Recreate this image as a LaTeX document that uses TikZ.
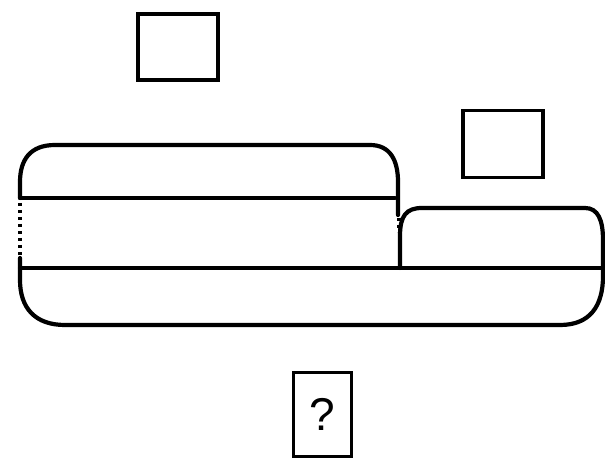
\documentclass[tikz,border=0pt]{standalone}
\usepackage{fontspec}
\setmainfont{Liberation Sans}
\begin{document}
\begin{tikzpicture}[x=1pt,y=-1pt,
  outl/.style={line width=4.2pt,line cap=round},
  box/.style={draw,line width=3.4pt,inner sep=0pt},
  dots/.style={line width=4pt,dash pattern=on 3pt off 4pt}]
\useasboundingbox (0,0) rectangle (605,465);
\fill[white] (0,0) rectangle (605,465);
% boxes
\node[box,minimum width=80pt,minimum height=66pt] (b1) at (178,47) {};
\node[box,minimum width=80pt,minimum height=67pt] (b2) at (503,144) {};
\node[box,minimum width=58pt,minimum height=84pt,font=\fontsize{46}{50}\selectfont] (q) at (322.5,414.5) {?};
% upper bar
\draw[outl] (20,198) -- (20,182) .. controls (20,160) and (30,145) .. (55,145) -- (370,145)
  .. controls (390,145) and (398,160) .. (398,182) -- (398,215);
\draw[outl] (20,198) -- (395,198);
\draw[dots] (20,203) -- (20,258);
\draw[dots] (399,218) -- (399,232);
% small right bar + bottom bar
\draw[outl] (400,268) -- (400,236) .. controls (400,216) and (406,208) .. (422,208) -- (585,208)
  .. controls (598,208) and (603,220) .. (603,240) -- (603,276)
  .. controls (603,306) and (590,325) .. (560,325) -- (65,325)
  .. controls (35,325) and (20,308) .. (20,280) -- (20,258);
\draw[outl] (20,268) -- (605,268);
\end{tikzpicture}
\end{document}
